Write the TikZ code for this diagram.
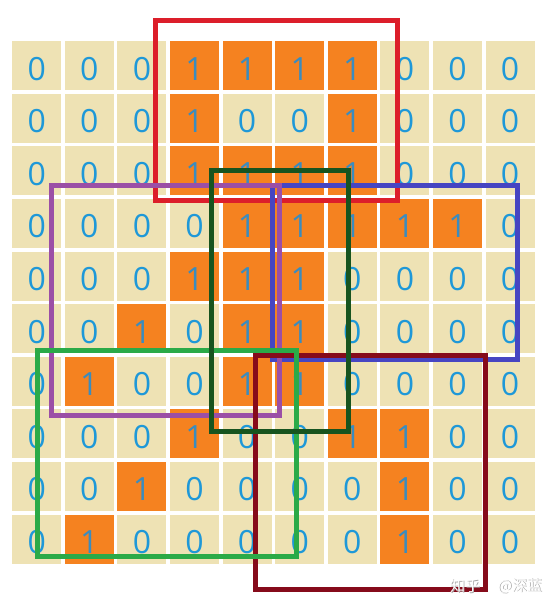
\documentclass[tikz,border=0pt]{standalone}
\usepackage{fontspec}
\setmainfont{Open Sans}
\newfontfamily\cjk{Noto Sans CJK SC}
\definecolor{cellbg}{HTML}{EEE2B4}
\definecolor{cellon}{HTML}{F58220}
\definecolor{digit}{HTML}{1E98D8}
\definecolor{digitone}{HTML}{3A8CBF}
\definecolor{boxred}{HTML}{DC1E2A}
\definecolor{boxpurple}{HTML}{9B4FA6}
\definecolor{boxdkgreen}{HTML}{17541F}
\definecolor{boxblue}{HTML}{4645C2}
\definecolor{boxgreen}{HTML}{2BAA48}
\definecolor{boxdkred}{HTML}{860B1B}
\begin{document}
\begin{tikzpicture}[x=1pt,y=-1pt,
  cellbox/.style={minimum size=49pt, inner sep=0pt, anchor=north west, draw=none},
  offcell/.style={cellbox, fill=cellbg},
  oncell/.style={cellbox, fill=cellon},
  digitzero/.style={inner sep=0pt, text=digit, font=\fontsize{32}{32}\selectfont},
  digitone/.style={inner sep=0pt, text=digitone, font=\fontsize{32}{32}\selectfont},
  frame/.style={line width=5pt, draw=#1}
]
\useasboundingbox (0,0) rectangle (553,608);
\fill[white] (0,0) rectangle (553,608);
\foreach \row [count=\r from 0] in {
  {0,0,0,1,1,1,1,0,0,0},
  {0,0,0,1,0,0,1,0,0,0},
  {0,0,0,1,1,1,1,0,0,0},
  {0,0,0,0,1,1,1,1,1,0},
  {0,0,0,1,1,1,0,0,0,0},
  {0,0,1,0,1,1,0,0,0,0},
  {0,1,0,0,1,1,0,0,0,0},
  {0,0,0,1,0,0,1,1,0,0},
  {0,0,1,0,0,0,0,1,0,0},
  {0,1,0,0,0,0,0,1,0,0}} {
  \foreach \v [count=\c from 0] in \row {
    \ifnum\v=1
      \node[oncell] (c\r-\c) at ({12+52.6*\c},{41+52.6*\r}) {};
      \node[digitone] (t\r-\c) at ([yshift=-3pt]c\r-\c.center) {1};
    \else
      \node[offcell] (c\r-\c) at ({12+52.6*\c},{41+52.6*\r}) {};
      \node[digitzero] (t\r-\c) at ([yshift=-3pt]c\r-\c.center) {0};
    \fi
  }
}
% windows
\draw[frame=boxred] (155.5,20.5) rectangle (397.5,200.5);
\draw[frame=boxblue] (272.5,185) rectangle (517.5,359.5);
\draw[frame=boxpurple] (51.5,185.5) rectangle (279.5,415.5);
\draw[frame=boxdkred] (255.5,355.5) rectangle (485,589.5);
\draw[frame=boxgreen] (37.5,350.5) rectangle (296,556.5);
\draw[frame=boxdkgreen] (211.5,170.5) rectangle (348,431);
% watermark
\node[font=\cjk\fontsize{15}{15}\selectfont, text=gray!70] (wm1s) at (465.8,586.8) {知乎};
\node[font=\cjk\fontsize{15}{15}\selectfont, text=white] (wm1) at (465,586) {知乎};
\node[font=\cjk\fontsize{15}{15}\selectfont, text=gray!70] (wm2s) at (520.8,586.8) {@深蓝};
\node[font=\cjk\fontsize{15}{15}\selectfont, text=white] (wm2) at (520,586) {@深蓝};
\end{tikzpicture}
\end{document}
